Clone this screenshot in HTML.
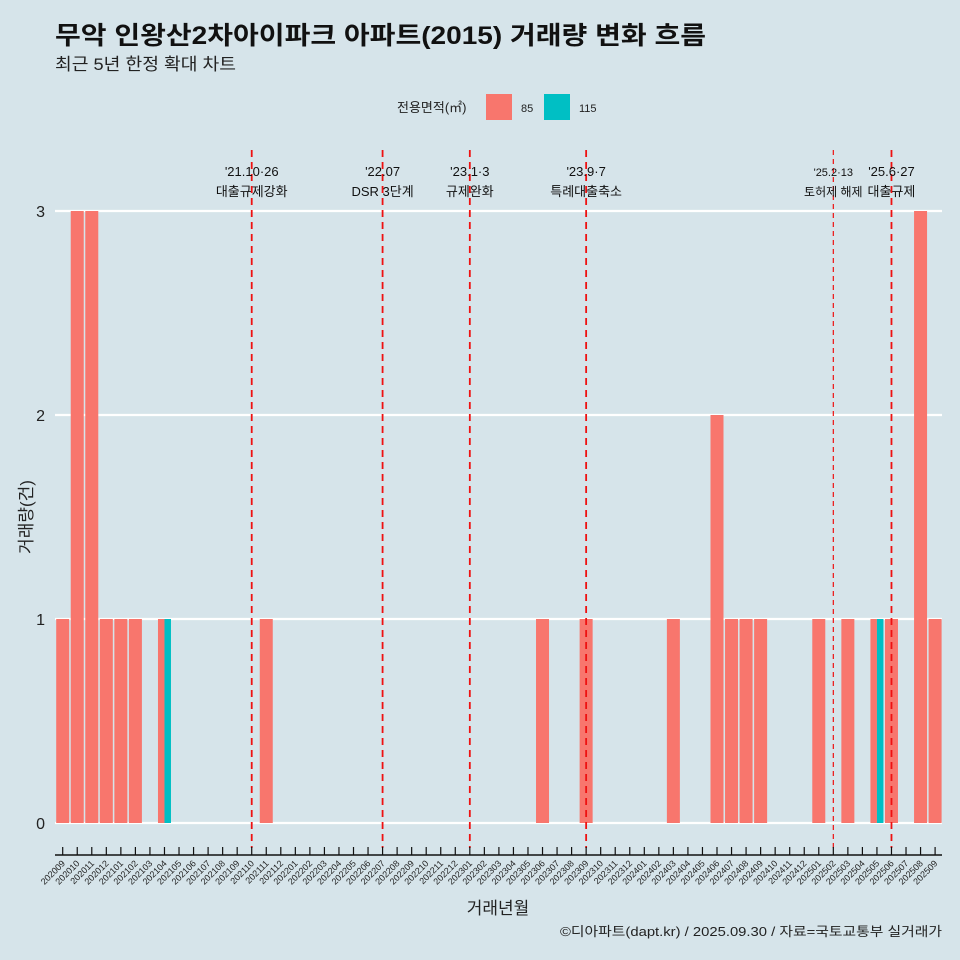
<!DOCTYPE html>
<html><head><meta charset="utf-8"><style>
body{margin:0;background:#d6e4ea;}
svg{display:block;font-family:"Liberation Sans","Noto Sans CJK KR",sans-serif;}
</style></head><body>
<svg id="chart" width="960" height="960" viewBox="0 0 960 960" xmlns="http://www.w3.org/2000/svg">
<rect width="960" height="960" fill="#d6e4ea"/>
<text x="55" y="44" font-size="25" font-weight="bold" fill="#111" textLength="651" lengthAdjust="spacingAndGlyphs">무악 인왕산2차아이파크 아파트(2015) 거래량 변화 흐름</text>
<text x="55" y="70" font-size="17" fill="#222" textLength="181" lengthAdjust="spacingAndGlyphs">최근 5년 한정 확대 차트</text>
<g>
<text x="397" y="112" font-size="13" fill="#222">전용면적(㎡)</text>
<rect x="486" y="94" width="26" height="26" fill="#f8766d"/>
<text x="521" y="112" font-size="11" fill="#222">85</text>
<rect x="544" y="94" width="26" height="26" fill="#00bfc4"/>
<text x="579" y="112" font-size="11" fill="#222">115</text>
</g>
<g id="grid"></g><g id="bars"></g><g id="events"></g><g id="xaxis"></g>
<text x="32" y="517" font-size="17" fill="#222" text-anchor="middle" transform="rotate(-90 32 517)">거래량(건)</text>
<text x="498" y="914" font-size="17" fill="#222" text-anchor="middle">거래년월</text>
<text x="942" y="936" font-size="13" fill="#222" text-anchor="end" textLength="382" lengthAdjust="spacingAndGlyphs">©디아파트(dapt.kr) / 2025.09.30 / 자료=국토교통부 실거래가</text>
</svg>
<script>
const months=[];
for(let y=2020,m=9;y*100+m<=202509;){months.push(String(y*100+m));m++;if(m>12){m=1;y++;}}
const series85Months=["202009","202010","202011","202012","202101","202102","202104","202111","202306","202309","202403","202406","202407","202408","202409","202501","202503","202505","202506","202508","202509"];
const series85Values=[1,3,3,1,1,1,1,1,1,1,1,2,1,1,1,1,1,1,1,3,1];
const series115Months=["202104","202505"];
const series115Values=[1,1];
const yTicks=[0,1,2,3];
const eventMonths=["202110","202207","202301","202309","202502","202506"];
const eventDates=["'21.10·26","'22.07","'23.1·3","'23.9·7","'25.2·13","'25.6·27"];
const eventLabels=["대출규제강화","DSR 3단계","규제완화","특례대출축소","토허제 해제","대출규제"];
const NS="http://www.w3.org/2000/svg";
const X0=62.7,STEP=14.54,BW=13;
const xs=i=>X0+i*STEP;
const ys=v=>823-v*204;
function mk(t,a,p){const e=document.createElementNS(NS,t);for(const k in a)e.setAttribute(k,a[k]);p.appendChild(e);return e;}
const grid=document.getElementById('grid');
yTicks.forEach(v=>{
  const l=mk('line',{x1:55,x2:942,y1:ys(v),y2:ys(v),stroke:'#fff','stroke-width':2.2},grid);
  
  
  const t=mk('text',{x:45,y:ys(v)+6,'font-size':16,fill:'#222','text-anchor':'end'},grid);
  t.textContent=v;
  
  
});
const bars=document.getElementById('bars');
function draw(ms,vs,color,other,left){
  ms.forEach((m,j)=>{
    const i=months.indexOf(m);
    const dodge=other.includes(m);
    const w=dodge?BW/2:BW;
    const x=dodge?(left?xs(i)-BW/2:xs(i)):xs(i)-BW/2;
    const r=mk('rect',{x:x,y:ys(vs[j]),width:w,height:ys(0)-ys(vs[j]),fill:color},bars);
    
    
  });
}
draw(series85Months,series85Values,'#f8766d',series115Months,true);
draw(series115Months,series115Values,'#00bfc4',series85Months,false);
const ev=document.getElementById('events');
eventMonths.forEach((m,k)=>{
  const x=xs(months.indexOf(m));
  const thin=m==="202502";
  const l=mk('line',{x1:x,x2:x,y1:150,y2:848,stroke:'#ee1111','stroke-width':thin?1.2:1.8,'stroke-dasharray':thin?'5,4':'7,5'},ev);
  
  
  const t1=mk('text',{x:x,y:176,'font-size':thin?11:13,fill:'#111','text-anchor':'middle'},ev);
  t1.textContent=eventDates[k];
  
  
  const t2=mk('text',{x:x,y:196,'font-size':thin?12:13,fill:'#111','text-anchor':'middle'},ev);
  t2.textContent=eventLabels[k];
  
  
});
const xa=document.getElementById('xaxis');
const al=mk('line',{x1:55,x2:942,y1:855,y2:855,stroke:'#111','stroke-width':1.5},xa);


months.forEach((m,i)=>{
  const x=xs(i);
  const tk=mk('line',{x1:x,x2:x,y1:847,y2:855,stroke:'#111','stroke-width':1.2},xa);
  
  
  const t=mk('text',{x:x+3,y:864,'font-size':9,fill:'#222','text-anchor':'end',transform:`rotate(-45 ${x+3} 864)`},xa);
  t.textContent=m;
  
  
});
</script>
</body></html>
